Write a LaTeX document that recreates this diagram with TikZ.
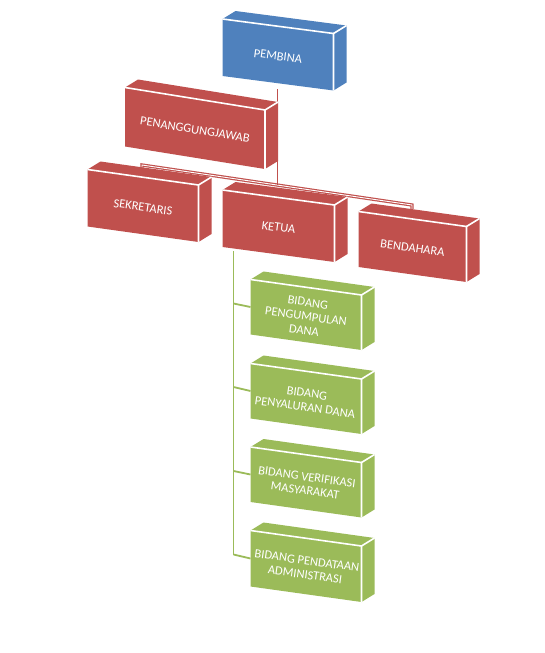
\documentclass[tikz,border=0pt]{standalone}
\usepackage{fontspec}
\setmainfont{Carlito}
\definecolor{obBlue}{RGB}{79,129,189}
\definecolor{obRed}{RGB}{192,80,77}
\definecolor{obGreen}{RGB}{155,187,89}
\def\bdx{13}
\def\bdy{8}
% #1 name, #2 x, #3 y, #4 w, #5 h, #6 drop, #7 colour, #8 text
\newcommand\tdbox[8]{%
  \fill[#7] (#2,#3) -- ++(#4,#6) -- ++(0,#5) -- ++(-#4,-#6) -- cycle;
  \fill[#7] (#2,#3) -- ++(\bdx,-\bdy) -- ++(#4,#6) -- ++(-\bdx,\bdy) -- cycle;
  \fill[#7] (#2,#3) ++(#4,#6) -- ++(\bdx,-\bdy) -- ++(0,#5) -- ++(-\bdx,\bdy) -- cycle;
  \draw[edgeline] (#2,#3) -- ++(#4,#6) -- ++(0,#5);
  \draw[edgeline] (#2,#3) ++(#4,#6) -- ++(\bdx,-\bdy);
  \coordinate (#1-b) at ({#2+0.5*#4},{#3+0.75*#6+#5});
  \coordinate (#1-l) at (#2,{#3+0.5*#5});
  \node[boxtext, rotate={-atan(#6/#4)}] (#1) at ({#2+0.5*#4},{#3+0.5*#6+0.5*#5+1.5}) {#8};
}
\begin{document}
\begin{tikzpicture}[x=1pt,y=-1pt,
  edgeline/.style={white, line width=1.6pt, line join=miter},
  boxtext/.style={text=white, font=\fontsize{12.5}{14}\selectfont, align=center, inner sep=0pt},
  redline/.style={obRed, line width=1.8pt},
  redbar/.style={draw=obRed, double=white, line width=1.2pt, double distance=0.9pt},
  greenline/.style={obGreen, line width=1.8pt}]
\useasboundingbox (0,0) rectangle (545,653);
% connector coordinates
\coordinate (barL) at (142,165);
\coordinate (barLt) at (142,169);
\coordinate (barR) at (412,205);
\coordinate (barRt) at (412,209);
\coordinate (barJ) at (277.5,185);
\coordinate (gtop) at (233.5,251);
\coordinate (gj1) at (233.5,303.5);
\coordinate (gj2) at (233.5,387);
\coordinate (gj3) at (233.5,471);
\coordinate (gj4) at (233.5,554.5);
% red connectors
\draw[redbar] (barLt) -- (barL) -- (barR) -- (barRt);
\draw[redline] (277.5,89) coordinate (pemb-b) -- (barJ);
% boxes
\tdbox{pembina}{222.5}{19}{111}{57}{14.5}{obBlue}{PEMBINA}
\tdbox{pj}{125}{87.5}{140}{59}{22.5}{obRed}{PENANGGUNGJAWAB}
\tdbox{sekretaris}{87.5}{169.5}{111}{57}{15.5}{obRed}{SEKRETARIS}
\tdbox{ketua}{222.5}{190}{112}{57}{15}{obRed}{KETUA}
\tdbox{bendahara}{358.5}{211.5}{108}{55.5}{15}{obRed}{BENDAHARA}
\tdbox{g1}{250.5}{279.5}{111}{55}{15.5}{obGreen}{BIDANG\\PENGUMPULAN\\DANA}
\tdbox{g2}{250.5}{363.5}{111}{55}{15.5}{obGreen}{BIDANG\\PENYALURAN DANA}
\tdbox{g3}{250.5}{447}{111}{55}{15.5}{obGreen}{BIDANG VERIFIKASI\\MASYARAKAT}
\tdbox{g4}{250.5}{530.5}{111}{56}{15.5}{obGreen}{BIDANG PENDATAAN\\ADMINISTRASI}
% green connectors
\draw[greenline] (gtop) -- (gj4);
\draw[greenline] (gj1) -- (g1-l);
\draw[greenline] (gj2) -- (g2-l);
\draw[greenline] (gj3) -- (g3-l);
\draw[greenline] (gj4) -- (g4-l);
\end{tikzpicture}
\end{document}
